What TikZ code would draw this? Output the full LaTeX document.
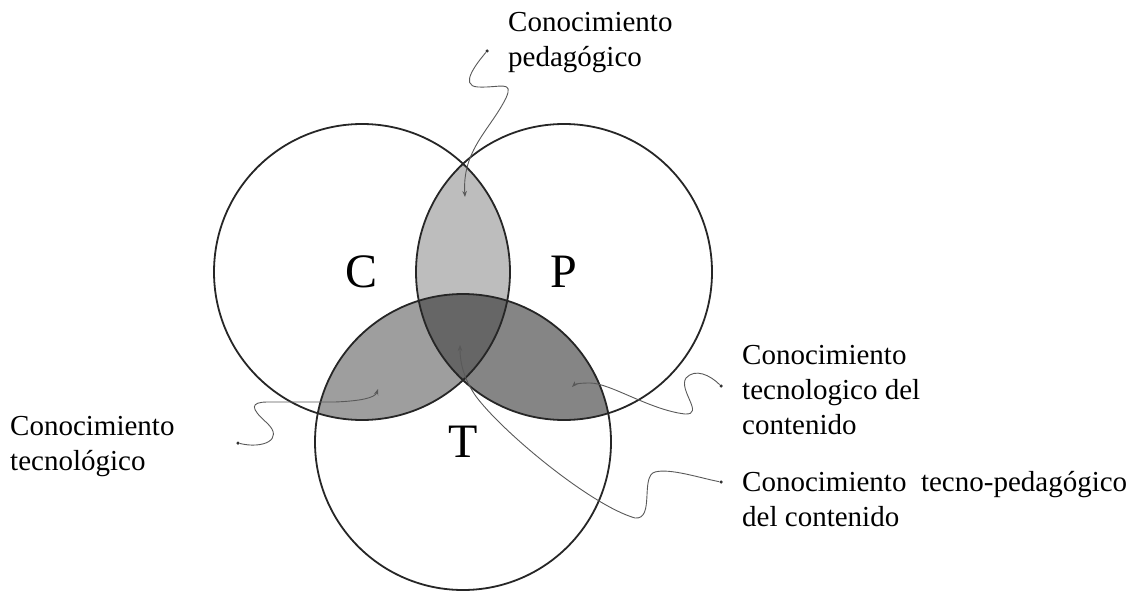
\documentclass[tikz,border=0pt]{standalone}
\usepackage{fontspec}
\setmainfont{Liberation Serif}
\usepackage{tikz}
\usetikzlibrary{positioning, calc}
\usetikzlibrary{arrows.meta}
\definecolor{shadeCP}{gray}{0.74}
\definecolor{shadeCT}{gray}{0.62}
\definecolor{shadePT}{gray}{0.52}
\definecolor{shadeCPT}{gray}{0.40}
\tikzstyle{setcircle}=[circle,draw=black!85,line width=1.8pt,minimum size=296pt,
inner sep=0pt,font=\fontsize{48}{48}\selectfont]
\tikzstyle{labelbox}=[rectangle,align=left,anchor=west,inner sep=0pt,
font=\fontsize{29}{35}\selectfont]
\tikzstyle{enddot}=[circle,fill=black!80,inner sep=0pt,minimum size=3.5pt]
\tikzstyle{leader}=[-{Stealth[length=6pt,width=4.5pt]},draw=black!65,line width=0.9pt]

\begin{document}
\begin{tikzpicture}[x=1pt, y=-1pt]
    \useasboundingbox (0,0) rectangle (1134,591);
    \coordinate (cc) at (362,272);
    \coordinate (pc) at (564,272);
    \coordinate (tc) at (463,442);
    
    % shaded overlaps
    \begin{scope}
        \clip (cc) circle[radius=148pt];
        \fill[shadeCP] (pc) circle[radius=148pt];
        \fill[shadeCT] (tc) circle[radius=148pt];
    \end{scope}
    \begin{scope}
        \clip (pc) circle[radius=148pt];
        \fill[shadePT] (tc) circle[radius=148pt];
        \clip (cc) circle[radius=148pt];
        \fill[shadeCPT] (tc) circle[radius=148pt];
    \end{scope}
    
    \node[setcircle] (C) at (cc) {C};
    \node[setcircle] (P) at (pc) {P};
    \node[setcircle] (T) at (tc) {T};
    
    % labels
    \node[labelbox] (kp) at (508,43) {Conocimiento\\pedagógico};
    \node[labelbox] (kt) at (10,447) {Conocimiento\\tecnológico};
    \node[labelbox] (ktc) at (742,390) {Conocimiento\\tecnologico del\\contenido};
    \node[labelbox] (ktpc) at (742,499) {Conocimiento\ \ tecno-pedagógico\\del contenido};
    
    % leader ends
    \node[enddot] (pdot) at (487,51) {};
    \node[enddot] (tdot) at (238,443) {};
    \node[enddot] (tcdot) at (721,386) {};
    \node[enddot] (tpcdot) at (721,482) {};
    \coordinate (ptip) at (465,197);
    \coordinate (ttip) at (378,389);
    \coordinate (tctip) at (572,387);
    \coordinate (tpctip) at (460,345);
    
    \draw[leader] (pdot) .. controls (478,62) and (458,86) .. (478,87)
        .. controls (500,88) and (514,80) .. (506,98)
        .. controls (490,130) and (462,150) .. (ptip);
    \draw[leader] (tdot) .. controls (262,449) and (285,440) .. (267,423)
        .. controls (250,408) and (250,402) .. (268,402) -- (335,402)
        .. controls (360,401) and (375,398) .. (ttip);
    \draw[leader] (tcdot) .. controls (710,375) and (695,368) .. (686,378)
        .. controls (678,390) and (705,415) .. (685,414)
        .. controls (650,410) and (610,383) .. (590,383)
        .. controls (580,383) and (575,384) .. (tctip);
    \draw[leader] (tpcdot) .. controls (700,478) and (670,468) .. (655,472)
        .. controls (640,476) and (655,520) .. (635,518)
        .. controls (590,505) and (500,430) .. (475,395)
        .. controls (465,380) and (460,365) .. (tpctip);
\end{tikzpicture}
\end{document}
